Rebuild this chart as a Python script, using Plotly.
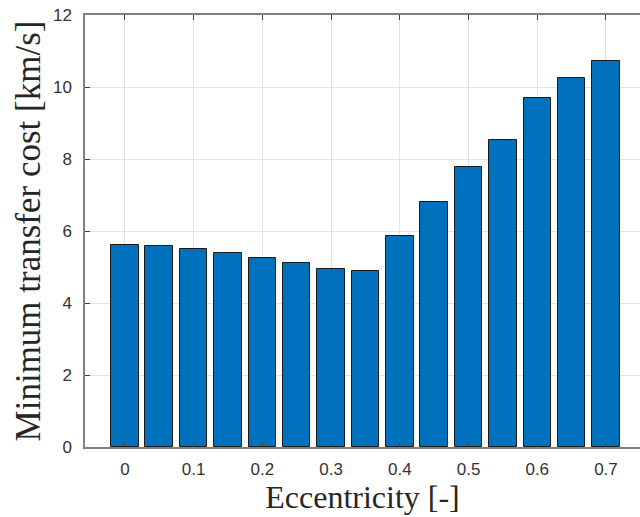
import plotly.graph_objects as go

# Orbital eccentricity of each case and the minimum transfer cost found for it
eccentricity = [0.0, 0.05, 0.10, 0.15, 0.20, 0.25, 0.30, 0.35,
                0.40, 0.45, 0.50, 0.55, 0.60, 0.65, 0.70]
min_cost_kms = [5.61, 5.57, 5.49, 5.40, 5.26, 5.12, 4.94, 4.88,
                5.86, 6.80, 7.78, 8.52, 9.69, 10.26, 10.72]

x_ticks = [0, 0.1, 0.2, 0.3, 0.4, 0.5, 0.6, 0.7]
x_tick_text = ["0", "0.1", "0.2", "0.3", "0.4", "0.5", "0.6", "0.7"]
y_ticks = [0, 2, 4, 6, 8, 10, 12]

fig = go.Figure(
    go.Bar(
        x=eccentricity,
        y=min_cost_kms,
        width=0.04,
        marker=dict(color="#0072BD", line=dict(color="#1a1a1a", width=1)),
    )
)

tick_font = dict(family="Liberation Sans, Arial, sans-serif", size=17, color="#333333")
x_title_font = dict(family="Liberation Serif, Times New Roman, serif", size=32, color="#262626")
y_title_font = dict(family="Liberation Serif, Times New Roman, serif", size=35, color="#262626")

fig.update_layout(
    width=640,
    height=517,
    margin=dict(l=85, r=0, t=15, b=70),
    paper_bgcolor="white",
    plot_bgcolor="white",
    showlegend=False,
    bargap=0,
)

fig.update_xaxes(
    range=[-0.058, 0.7495],
    tickvals=x_ticks,
    ticktext=x_tick_text,
    tickfont=tick_font,
    ticks="inside",
    ticklen=5,
    tickcolor="#404040",
    ticklabelstandoff=6,
    showline=True,
    linecolor="#808080",
    linewidth=1.5,
    mirror="ticks",
    showgrid=True,
    gridcolor="#e3e3e3",
    gridwidth=1,
    zeroline=False,
    title=dict(text="Eccentricity [-]", font=x_title_font, standoff=2),
)

fig.update_yaxes(
    range=[0, 12],
    tickvals=y_ticks,
    tickfont=tick_font,
    ticks="inside",
    ticklen=5,
    tickcolor="#404040",
    ticklabelstandoff=8,
    showline=True,
    linecolor="#808080",
    linewidth=1.5,
    showgrid=True,
    gridcolor="#e3e3e3",
    gridwidth=1,
    zeroline=False,
    title=dict(text="Minimum transfer cost [km/s]", font=y_title_font, standoff=2),
)

fig.write_html("out.html")
